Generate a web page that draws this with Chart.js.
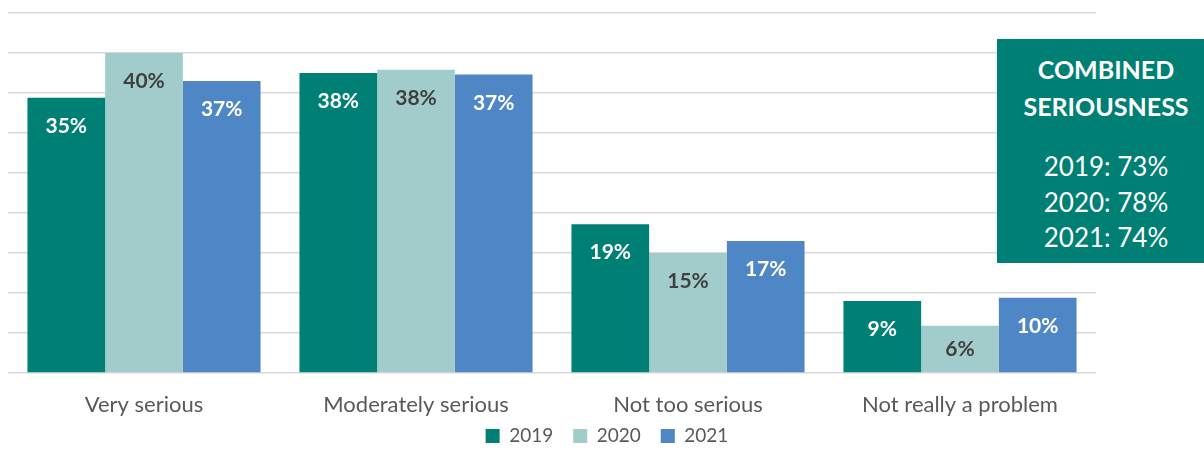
<!DOCTYPE html>
<html>
<head>
<meta charset="utf-8">
<script src="https://cdn.jsdelivr.net/npm/chart.js@4/dist/chart.umd.min.js"></script>
<style>
  html, body { margin: 0; padding: 0; background: #fff; overflow: hidden; }
  #wrap { position: relative; width: 1204px; height: 449px; }
  #box {
    position: absolute; left: 997px; top: 39px; width: 218px; height: 224px;
    background: #007F74; color: #fff; font-family: Lato, "Open Sans", sans-serif;
    text-align: center; box-sizing: border-box;
  }
  #box .title { font-weight: bold; font-size: 25px; line-height: 37px; margin-top: 12px; }
  #box .vals { font-size: 26px; line-height: 35.5px; margin-top: 24px; }
</style>
</head>
<body>
<div id="wrap">
  <canvas id="c" width="1204" height="449"></canvas>
  <div id="box">
    <div class="title">COMBINED<br>SERIOUSNESS</div>
    <div class="vals">2019: 73%<br>2020: 78%<br>2021: 74%</div>
  </div>
</div>
<script>
const categories = ["Very serious", "Moderately serious", "Not too serious", "Not really a problem"];
const seriesNames = ["2019", "2020", "2021"];
const values2019 = [34.4, 37.5, 18.6, 9.0];
const values2020 = [40.0, 37.9, 15.0, 5.9];
const values2021 = [36.5, 37.3, 16.5, 9.4];
const labels2019 = ["35%", "38%", "19%", "9%"];
const labels2020 = ["40%", "38%", "15%", "6%"];
const labels2021 = ["37%", "37%", "17%", "10%"];
const colors = ["#007F74", "#A2CCCB", "#4F86C6"];
const labelColors = ["#FFFFFF", "#404040", "#FFFFFF"];

const allValues = [values2019, values2020, values2021];
const allLabels = [labels2019, labels2020, labels2021];

const barLabelPlugin = {
  id: "barLabels",
  afterDatasetsDraw(chart) {
    const ctx = chart.ctx;
    ctx.save();
    ctx.font = "bold 21px Lato, 'Open Sans', sans-serif";
    ctx.textAlign = "center";
    ctx.textBaseline = "middle";
    chart.data.datasets.forEach((ds, di) => {
      const meta = chart.getDatasetMeta(di);
      meta.data.forEach((bar, i) => {
        const top = bar.y, bottom = bar.base;
        const y = Math.min(top + 28.5, (top + bottom) / 2);
        ctx.fillStyle = labelColors[di];
        ctx.fillText(allLabels[di][i], bar.x, y);
      });
    });
    ctx.restore();
  }
};

// Keep the legend compact vertically and centred on the whole canvas
const legendPlacement = {
  id: "legendPlacement",
  beforeLayout(chart) {
    const lg = chart.legend;
    if (!lg || lg._patched) return;
    lg._patched = true;
    const origFit = lg.fit.bind(lg);
    lg.fit = function () { origFit(); if (this.isHorizontal()) this.height = 26; };
    const origDraw = lg.draw.bind(lg);
    lg.draw = function (area) {
      const t = this.top, b = this.bottom, l = this.left, r = this.right;
      this.top = t - 16.5; this.bottom = t + 60;
      this.left = l + 55; this.right = r + 55;
      origDraw(area);
      this.top = t; this.bottom = b; this.left = l; this.right = r;
    };
  }
};

new Chart(document.getElementById("c"), {
  type: "bar",
  data: {
    labels: categories,
    datasets: seriesNames.map((name, i) => ({
      label: name,
      data: allValues[i],
      backgroundColor: colors[i],
      borderWidth: 0,
      categoryPercentage: 0.857,
      barPercentage: 1.0
    }))
  },
  options: {
    responsive: false,
    animation: false,
    layout: { padding: { left: 8, right: 108, top: 13, bottom: 0 } },
    plugins: {
      legend: {
        position: "bottom",
        labels: {
          font: { family: "Lato, 'Open Sans', sans-serif", size: 19 },
          color: "#595959",
          boxWidth: 14, boxHeight: 14, padding: 20
        }
      },
      tooltip: { enabled: false }
    },
    scales: {
      x: {
        grid: { display: false },
        border: { display: false },
        ticks: {
          font: { family: "Lato, 'Open Sans', sans-serif", size: 22 },
          color: "#595959",
          padding: 11
        },
        afterFit(axis) { axis.height = 50; }
      },
      y: {
        min: 0, max: 45,
        ticks: { display: false, stepSize: 5 },
        border: { display: false },
        grid: { color: "#D9D9D9", lineWidth: 1.5, drawTicks: false },
        afterFit(axis) { axis.width = 0; }
      }
    }
  },
  plugins: [barLabelPlugin, legendPlacement]
});
</script>
</body>
</html>
